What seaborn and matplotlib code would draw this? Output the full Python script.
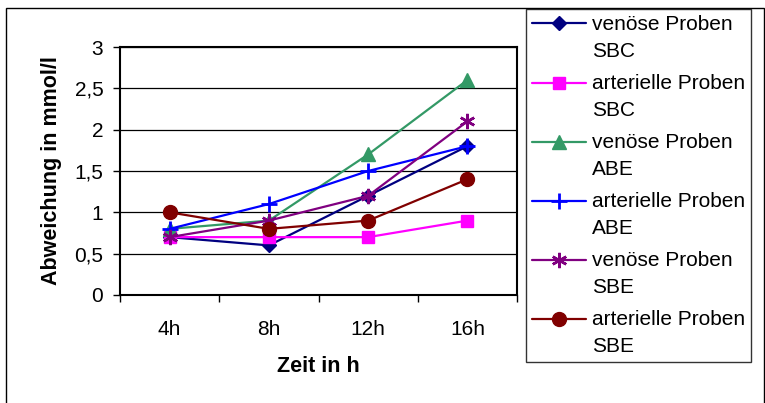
import numpy as np
import pandas as pd
import matplotlib
matplotlib.use("Agg")
import matplotlib.pyplot as plt
from matplotlib.patches import Rectangle
from matplotlib.ticker import FixedLocator, FuncFormatter
import seaborn as sns

categories = ["4h", "8h", "12h", "16h"]
series_names = [
    "venöse Proben\nSBC",
    "arterielle Proben\nSBC",
    "venöse Proben\nABE",
    "arterielle Proben\nABE",
    "venöse Proben\nSBE",
    "arterielle Proben\nSBE",
]
venoese_sbc = [0.7, 0.6, 1.2, 1.8]
arterielle_sbc = [0.7, 0.7, 0.7, 0.9]
venoese_abe = [0.8, 0.9, 1.7, 2.6]
arterielle_abe = [0.8, 1.1, 1.5, 1.8]
venoese_sbe = [0.7, 0.9, 1.2, 2.1]
arterielle_sbe = [1.0, 0.8, 0.9, 1.4]
all_values = [venoese_sbc, arterielle_sbc, venoese_abe, arterielle_abe, venoese_sbe, arterielle_sbe]

colors = ["#000080", "#FF00FF", "#339966", "#0000FF", "#800080", "#800000"]
markers = ["D", "s", "^", "+", (6, 2, 0), "o"]
msizes = [7, 9, 10, 11, 11, 10]
mews = [1, 1, 1, 2, 1.8, 1]

sns.set_theme(style="white")
plt.rcParams["font.family"] = ["Liberation Sans", "DejaVu Sans"]

FS = 15
fig = plt.figure(figsize=(7.65, 4.03), dpi=100)
W, H = 765, 403
ax = fig.add_axes([120 / W, 1 - 295 / H, (517 - 120) / W, (295 - 47) / H])

xpos = np.arange(len(categories))
rows = []
for name, vals in zip(series_names, all_values):
    for x, v in zip(xpos, vals):
        rows.append({"x": x, "y": v, "serie": name})
df = pd.DataFrame(rows)

for i, name in enumerate(series_names):
    sub = df[df["serie"] == name]
    sns.lineplot(data=sub, x="x", y="y", ax=ax, color=colors[i], marker=markers[i],
                 markersize=msizes[i], markeredgewidth=mews[i], markeredgecolor=colors[i],
                 linewidth=1.6, label=name, zorder=3 + i)

ax.set_xlim(-0.5, len(categories) - 0.5)
ax.set_ylim(0, 3)
ax.set_yticks(np.arange(0, 3.01, 0.5))
ax.yaxis.set_major_formatter(FuncFormatter(lambda v, p: ("%g" % v).replace(".", ",")))
ax.xaxis.set_major_locator(FixedLocator(np.arange(-0.5, len(categories), 1.0)))
ax.xaxis.set_major_formatter(FuncFormatter(lambda v, p: ""))
ax.set_xticks(xpos, minor=True)
ax.set_xticklabels(categories, minor=True)
ax.tick_params(axis="x", which="minor", length=0, pad=18, labelsize=FS, colors="black")
ax.tick_params(axis="x", which="major", length=5, width=1, direction="out", bottom=True, color="black")
ax.tick_params(axis="y", length=5, width=1, direction="out", left=True, labelsize=FS,
               pad=7, colors="black")
ax.grid(axis="y", color="black", linewidth=0.9)
ax.set_axisbelow(True)
for s in ax.spines.values():
    s.set_visible(True)
    s.set_color("black")
    s.set_linewidth(1.5)

ax.set_xlabel("Zeit in h", fontsize=15.5, fontweight="bold", labelpad=12, color="black")
ax.set_ylabel("Abweichung in mmol/l", fontsize=15.5, fontweight="bold", labelpad=9, color="black")

leg = ax.legend(loc="upper left", bbox_to_anchor=(526 / W, 1 - 9 / H), bbox_transform=fig.transFigure,
                frameon=True, fancybox=False, fontsize=FS, handlelength=2.6, handletextpad=0.25,
                handleheight=1.0, labelspacing=0.65, borderpad=0.3, borderaxespad=0)
leg.get_frame().set_edgecolor("black")
leg.get_frame().set_linewidth(1)
for t in leg.get_texts():
    t.set_color("black")
    t.set_linespacing(1.5)
for col in leg._legend_handle_box.get_children():
    for item in col.get_children():
        item.align = "top"

fig.patches.append(Rectangle((6 / W, -0.05), (764 - 6) / W, 1.05 - 8 / H, transform=fig.transFigure,
                             fill=False, edgecolor="black", linewidth=1, zorder=0))

fig.savefig("out.png", dpi=100)
